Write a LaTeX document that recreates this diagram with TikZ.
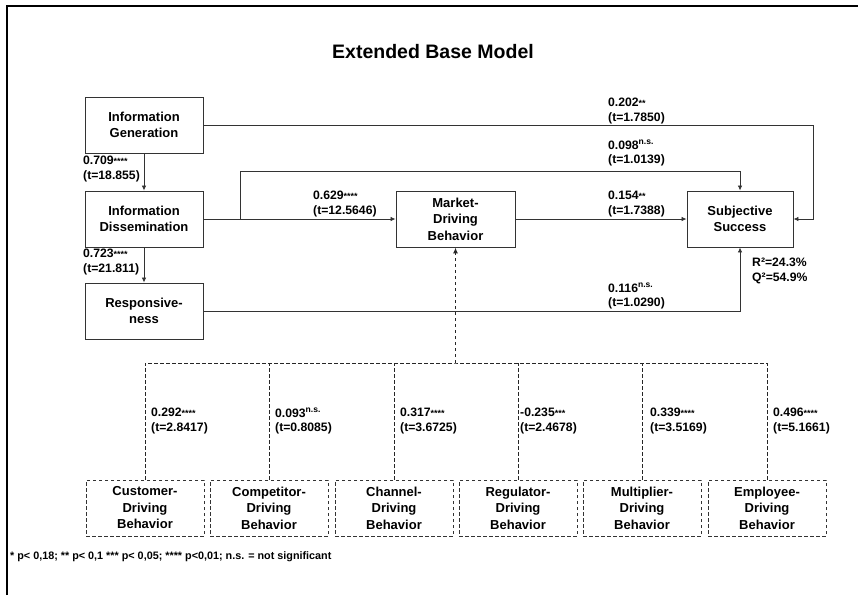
\documentclass[tikz,border=0pt]{standalone}
\usepackage{fontspec}
\setmainfont{Liberation Sans}
\usetikzlibrary{arrows.meta}
\tikzset{
  box/.style={draw=black!80, line width=0.9pt, rectangle, minimum width=118pt, minimum height=56pt,
    inner sep=0pt, align=center, font=\bfseries\fontsize{13}{16.5}\selectfont},
  dbox/.style={box, dash pattern=on 3.5pt off 2.5pt, line width=0.8pt},
  lbl/.style={anchor=west, align=left, inner sep=0pt, font=\bfseries\fontsize{12.2}{14.3}\selectfont},
  link/.style={draw=black!80, line width=0.8pt},
  tip/.style={-{Latex[length=5pt,width=4.5pt]}},
  dlink/.style={draw=black!85, line width=0.8pt, dash pattern=on 3.5pt off 2.5pt},
}
\newcommand{\stars}[1]{{\fontsize{9}{9}\selectfont #1}}
\newcommand{\ns}{\textsuperscript{n.s.}}
\begin{document}
\begin{tikzpicture}[x=1pt,y=-1pt]
  \useasboundingbox (0,0) rectangle (858,595);
  % frame
  \draw[line width=1.2pt] (7,595) -- (7,6) -- (858,6);
  % title
  \node[font=\bfseries\fontsize{19.5}{22}\selectfont] (title) at (433,52) {Extended Base Model};

  % main constructs
  \node[box] (ig) at (144,125) {Information\\Generation};
  \node[box] (id) at (144,219) {Information\\Dissemination};
  \node[box] (rs) at (144,311) {Responsive-\\ness};
  \node[box, minimum width=119pt] (mdb) at (455.5,219) {Market-\\Driving\\Behavior};
  \node[box, minimum width=106pt] (ss) at (740,219) {Subjective\\Success};

  % driving-behavior dimensions
  \node[dbox] (sb1) at (145,508) {Customer-\\Driving\\Behavior};
  \node[dbox] (sb2) at (269,508) {Competitor-\\Driving\\Behavior};
  \node[dbox] (sb3) at (394,508) {Channel-\\Driving\\Behavior};
  \node[dbox] (sb4) at (518,508) {Regulator-\\Driving\\Behavior};
  \node[dbox] (sb5) at (642,508) {Multiplier-\\Driving\\Behavior};
  \node[dbox] (sb6) at (767,508) {Employee-\\Driving\\Behavior};

  % routing points
  \coordinate (bus) at (455.5,363);
  \coordinate (idsplit) at (240,219);
  \coordinate (igturn) at (813,125);
  \coordinate (idtop) at (240,171);

  % structural paths
  \draw[link,tip] (ig) -- (id);
  \draw[link,tip] (id) -- (rs);
  \draw[link,tip] (id) -- (mdb);
  \draw[link,tip] (mdb) -- (ss);
  \draw[link,tip] (ig.east) -- (igturn) |- (ss.east);
  \draw[link,tip] (idsplit) -- (idtop) -| (ss.north);
  \draw[link,tip] (rs.east) -| (ss.south);

  % second-order construct links
  \draw[dlink] (sb1.north) |- (bus) -| (sb6.north);
  \foreach \k in {2,3,4,5} \draw[dlink] (sb\k.north) -- (sb\k.north |- bus);
  \draw[dlink, line width=1.6pt, -{Latex[length=6pt,width=5pt]}] (bus) -- (mdb.south);

  % path coefficients
  \node[lbl] (l1) at (83,169) {0.709\stars{****}\\(t=18.855)};
  \node[lbl] (l2) at (83,262) {0.723\stars{****}\\(t=21.811)};
  \node[lbl] (l3) at (313,204) {0.629\stars{****}\\(t=12.5646)};
  \node[lbl] (l4) at (608,111) {0.202\stars{**}\\(t=1.7850)};
  \node[lbl] (l5) at (608,153) {0.098\ns\\(t=1.0139)};
  \node[lbl] (l6) at (608,204) {0.154\stars{**}\\(t=1.7388)};
  \node[lbl] (l7) at (608,296) {0.116\ns\\(t=1.0290)};
  \node[lbl] (r2) at (752,271) {R²=24.3\%\\Q²=54.9\%};

  \node[lbl] (c1) at (151,421) {0.292\stars{****}\\(t=2.8417)};
  \node[lbl] (c2) at (275,421) {0.093\ns\\(t=0.8085)};
  \node[lbl] (c3) at (400,421) {0.317\stars{****}\\(t=3.6725)};
  \node[lbl] (c4) at (520,421) {-0.235\stars{***}\\(t=2.4678)};
  \node[lbl] (c5) at (650,421) {0.339\stars{****}\\(t=3.5169)};
  \node[lbl] (c6) at (773,421) {0.496\stars{****}\\(t=5.1661)};

  % significance legend
  \node[anchor=west, inner sep=0pt, font=\bfseries\fontsize{10.8}{12}\selectfont] (note) at (10,557)
    {* p< 0,18; ** p< 0,1 *** p< 0,05; **** p<0,01; n.s. = not significant};
\end{tikzpicture}
\end{document}
